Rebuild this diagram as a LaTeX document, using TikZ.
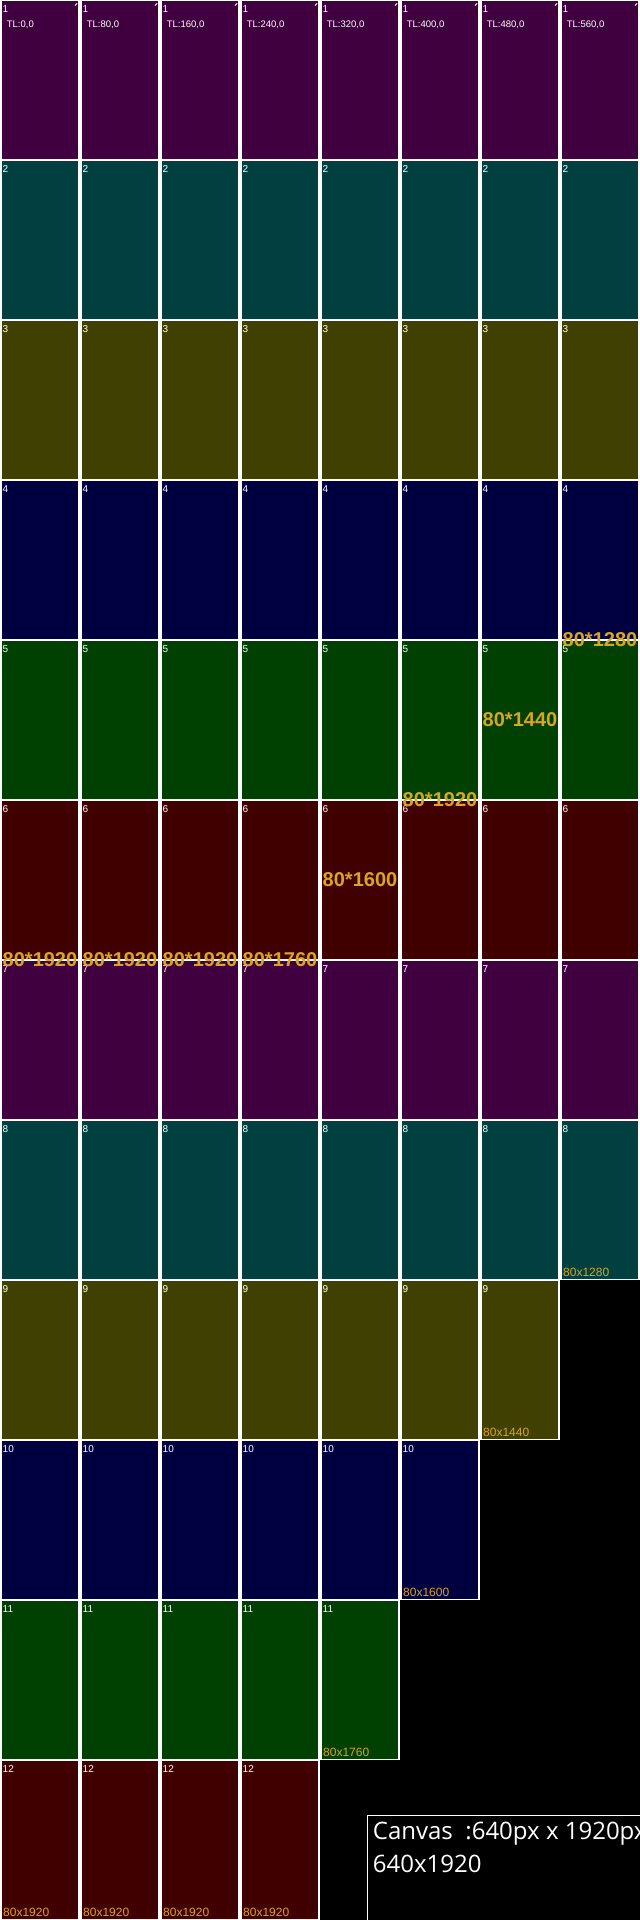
\documentclass[tikz,border=0pt]{standalone}
\usepackage{fontspec}
\setmainfont{Liberation Sans}
\newfontfamily\canvasfont{Open Sans}
\definecolor{c1}{RGB}{64,0,64}
\definecolor{c2}{RGB}{0,64,64}
\definecolor{c3}{RGB}{64,64,0}
\definecolor{c4}{RGB}{0,0,64}
\definecolor{c5}{RGB}{0,64,0}
\definecolor{c6}{RGB}{64,0,0}
\definecolor{gold}{RGB}{218,165,32}
\tikzset{
  cellbox/.style={fill=#1, draw=none},
  rowlab/.style={anchor=base west, inner sep=0pt, text=white, font=\fontsize{10}{12}\selectfont},
  tllab/.style={anchor=base west, inner sep=0pt, text=white, font=\fontsize{9.5}{11}\selectfont},
  midlab/.style={anchor=center, inner sep=0pt, text=gold, font=\bfseries\fontsize{20}{24}\selectfont},
  botlab/.style={anchor=base west, inner sep=0pt, text=gold, font=\fontsize{12}{14}\selectfont},
  canvaslab/.style={anchor=base west, inner sep=0pt, text=white, font=\canvasfont\fontsize{24}{28}\selectfont},
}
\begin{document}
\begin{tikzpicture}[x=1pt,y=-1pt]
\fill[black] (0,0) rectangle (640,1920);
\useasboundingbox (0,0) rectangle (640,1920);
\foreach \c/\n in {0/12,1/12,2/12,3/12,4/11,5/10,6/9,7/8} {
  \pgfmathtruncatemacro\xx{80*\c}
  \foreach \r in {1,...,\n} {
    \pgfmathtruncatemacro\k{mod(\r-1,6)+1}
    \pgfmathtruncatemacro\yy{160*(\r-1)}
    \fill[white] (\xx,\yy) rectangle ++(80,160);
    \fill[cellbox=c\k] (\xx+2,\yy+1) rectangle (\xx+78,\yy+159);
    \node[rowlab] (r\c-\r) at (\xx+2.5,\yy+12.3) {\r};
  }
  \node[tllab] (tl\c) at (\xx+6.7,27.3) {TL:\xx,0};
  \draw[white, line width=0.8pt] (\xx+75,5.5) -- (\xx+77.2,3.2);
  \pgfmathtruncatemacro\hh{160*\n}
  \node[botlab] (b\c) at (\xx+3,\hh-3.3) {80x\hh};
}
\foreach \c/\v/\yp in {0/1920/960,1/1920/960,2/1920/960,3/1760/960,4/1600/880,5/1920/800,6/1440/720,7/1280/640} {
  \node[midlab] (m\c) at (80*\c+40,\yp) {80*\v};
}
\draw[white, line width=1pt] (367.8,1930) -- (367.8,1815.8) -- (650,1815.8);
\node[canvaslab] (cv1) at (372.7,1839.3) {Canvas\ \ :640px x 1920px};
\node[canvaslab] (cv2) at (372.7,1872.3) {640x1920};
\end{tikzpicture}
\end{document}
